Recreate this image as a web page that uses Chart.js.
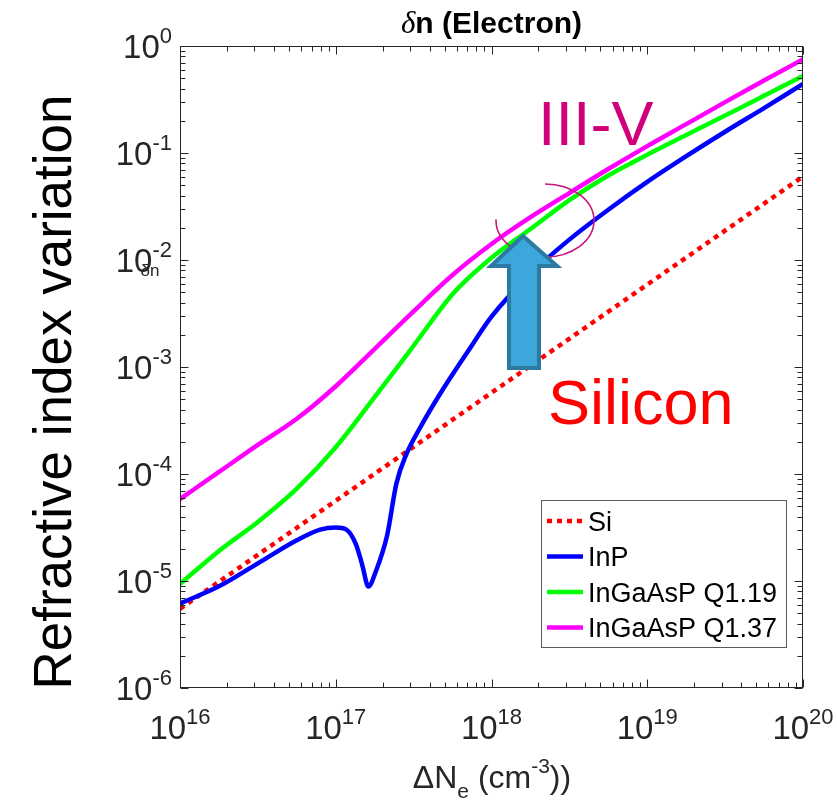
<!DOCTYPE html>
<html>
<head>
<meta charset="utf-8">
<script src="https://cdn.jsdelivr.net/npm/chart.js@4.4.1/dist/chart.umd.min.js"></script>
<style>
  html, body { margin: 0; padding: 0; background: #fff; }
  #wrap { width: 837px; height: 802px; }
</style>
</head>
<body>
<div id="wrap"><canvas id="dnChart" width="837" height="802"></canvas></div>
<script>
// electron density (cm^-3) and refractive index change for each material
const nSi = [1e16, 1e17, 1e18, 1e19, 1e20];
const dnSi = [5.5e-6, 5.62e-5, 5.75e-4, 5.89e-3, 6.03e-2];

const nInP = [1e16, 1.78e16, 3.16e16, 5.62e16, 7.94e16, 1e17, 1.17e17, 1.35e17, 1.48e17, 1.62e17,
              1.82e17, 2.14e17, 2.45e17, 2.85e17, 3.47e17, 4.68e17, 7.24e17, 1e18, 1.78e18, 3.16e18,
              5.62e18, 1e19, 1.78e19, 3.16e19, 5.62e19, 1e20];
const dnInP = [6.17e-6, 8.91e-6, 1.46e-5, 2.40e-5, 3.02e-5, 3.16e-5, 3.02e-5, 2.19e-5, 1.41e-5, 8.9e-6,
               1.26e-5, 2.69e-5, 8.13e-5, 1.55e-4, 2.69e-4, 5.62e-4, 1.48e-3, 2.95e-3, 7.41e-3, 1.55e-2,
               2.95e-2, 5.37e-2, 9.33e-2, 0.158, 0.263, 0.442];

const nQ = [1e16, 1.78e16, 3.16e16, 5.62e16, 1e17, 1.78e17, 3.16e17, 5.62e17, 1e18, 1.78e18,
            3.16e18, 5.62e18, 1e19, 1.78e19, 3.16e19, 5.62e19, 1e20];
const dnQ119 = [9.38e-6, 1.91e-5, 3.56e-5, 7.29e-5, 1.78e-4, 5.25e-4, 1.58e-3, 4.79e-3, 1.05e-2, 1.95e-2,
                3.63e-2, 6.17e-2, 9.62e-2, 0.147, 0.224, 0.342, 0.525];
const dnQ137 = [5.83e-5, 1.045e-4, 1.87e-4, 3.28e-4, 6.61e-4, 1.48e-3, 3.31e-3, 7.24e-3, 1.41e-2, 2.51e-2,
                4.22e-2, 7.08e-2, 0.116, 0.186, 0.299, 0.475, 0.752];

const seriesNames = ['Si', 'InP', 'InGaAsP Q1.19', 'InGaAsP Q1.37'];
const xDecades = [16, 17, 18, 19, 20];
const yDecades = [-6, -5, -4, -3, -2, -1, 0];

const axisColor = '#262626';
const SANS = "'Liberation Sans', Arial, sans-serif";

function toPoints(xs, ys) {
    return xs.map((v, i) => ({ x: v, y: ys[i] }));
}

const seriesStyle = [
    { color: '#ff0000', dash: [5, 5] },
    { color: '#0000ff', dash: [] },
    { color: '#00ff00', dash: [] },
    { color: '#ff00ff', dash: [] }
];

const datasets = [
    toPoints(nSi, dnSi),
    toPoints(nInP, dnInP),
    toPoints(nQ, dnQ119),
    toPoints(nQ, dnQ137)
].map((pts, i) => ({
    label: seriesNames[i],
    data: pts,
    showLine: true,
    borderColor: seriesStyle[i].color,
    borderWidth: 4.5,
    borderDash: seriesStyle[i].dash,
    borderCapStyle: 'butt',
    pointRadius: 0,
    cubicInterpolationMode: i === 0 ? 'default' : 'monotone',
    tension: 0,
    order: 4 - i
}));

// "10" with a raised exponent
function drawPower(ctx, exp, x, baseline, align) {
    const baseFont = '33px ' + SANS;
    const supFont = '22px ' + SANS;
    ctx.font = baseFont;
    const wb = ctx.measureText('10').width;
    ctx.font = supFont;
    const expText = String(exp);
    const we = ctx.measureText(expText).width;
    let left = align === 'right' ? x - wb - we : x - (wb + we) / 2;
    ctx.textAlign = 'left';
    ctx.textBaseline = 'alphabetic';
    ctx.font = baseFont;
    ctx.fillText('10', left, baseline);
    ctx.font = supFont;
    ctx.fillText(expText, left + wb, baseline - 15);
}

function drawFrame(chart) {
    const { ctx, chartArea: a, scales: { x, y } } = chart;
    const L = Math.round(a.left) + 0.5, R = Math.round(a.right) - 0.5;
    const T = Math.round(a.top) + 0.5, B = Math.round(a.bottom) - 0.5;
    ctx.save();
    ctx.strokeStyle = axisColor;
    ctx.lineWidth = 1;
    ctx.strokeRect(L, T, R - L, B - T);
    ctx.beginPath();
    xDecades.forEach(d => {
        for (let m = 1; m < 10; m++) {
            const v = m * Math.pow(10, d);
            if (v > Math.pow(10, xDecades[xDecades.length - 1])) break;
            const px = Math.round(x.getPixelForValue(v)) + 0.5;
            const len = m === 1 ? 8 : 5;
            ctx.moveTo(px, B); ctx.lineTo(px, B - len);
            ctx.moveTo(px, T); ctx.lineTo(px, T + len);
        }
    });
    yDecades.forEach(d => {
        for (let m = 1; m < 10; m++) {
            const v = m * Math.pow(10, d);
            if (v > Math.pow(10, yDecades[yDecades.length - 1])) break;
            const py = Math.round(y.getPixelForValue(v)) + 0.5;
            const len = m === 1 ? 8 : 5;
            ctx.moveTo(L, py); ctx.lineTo(L + len, py);
            ctx.moveTo(R, py); ctx.lineTo(R - len, py);
        }
    });
    ctx.stroke();
    ctx.restore();
}

function drawCallout(chart) {
    const ctx = chart.ctx;
    ctx.save();
    // ellipse marking the III-V curves
    ctx.strokeStyle = '#c8167e';
    ctx.lineWidth = 1.6;
    ctx.beginPath();
    ctx.ellipse(545, 220.5, 49, 36.5, 0, -Math.PI / 2, Math.PI * 1.01);
    ctx.stroke();

    // block arrow from silicon up to III-V
    ctx.beginPath();
    ctx.moveTo(523, 236);
    ctx.lineTo(557, 266);
    ctx.lineTo(539, 266);
    ctx.lineTo(539, 368);
    ctx.lineTo(509, 368);
    ctx.lineTo(509, 266);
    ctx.lineTo(491, 266);
    ctx.closePath();
    ctx.fillStyle = '#3ca7da';
    ctx.fill();
    ctx.strokeStyle = '#2c79a2';
    ctx.lineWidth = 4;
    ctx.lineJoin = 'miter';
    ctx.stroke();

    ctx.textBaseline = 'alphabetic';
    ctx.textAlign = 'left';
    ctx.font = '63px ' + SANS;
    ctx.fillStyle = '#d0007a';
    ctx.fillText('III-V', 538, 145);
    ctx.fillStyle = '#ff0000';
    ctx.fillText('Silicon', 548, 424);
    ctx.restore();
}

function drawLegend(chart) {
    const ctx = chart.ctx;
    const box = { x: 541, y: 500, w: 245, h: 147 };
    ctx.save();
    ctx.fillStyle = '#ffffff';
    ctx.fillRect(box.x, box.y, box.w, box.h);
    ctx.strokeStyle = '#5a5a5a';
    ctx.lineWidth = 1;
    ctx.strokeRect(box.x + 0.5, box.y + 0.5, box.w, box.h);
    ctx.font = '27px ' + SANS;
    ctx.textBaseline = 'alphabetic';
    ctx.textAlign = 'left';
    seriesNames.forEach((name, i) => {
        const cy = box.y + 21 + i * 35.5;
        ctx.strokeStyle = seriesStyle[i].color;
        ctx.lineWidth = 4.5;
        ctx.setLineDash(seriesStyle[i].dash);
        ctx.beginPath();
        ctx.moveTo(547, cy);
        ctx.lineTo(583, cy);
        ctx.stroke();
        ctx.setLineDash([]);
        ctx.fillStyle = '#000000';
        ctx.fillText(name, 588, cy + 9.5);
    });
    ctx.restore();
}

function drawTexts(chart) {
    const { ctx, chartArea: a, scales: { x, y } } = chart;
    ctx.save();
    ctx.fillStyle = axisColor;
    xDecades.forEach(d => drawPower(ctx, d, x.getPixelForValue(Math.pow(10, d)), a.bottom + 51, 'center'));
    yDecades.forEach(d => drawPower(ctx, d, a.left - 8, y.getPixelForValue(Math.pow(10, d)) + 12, 'right'));

    // title: italic delta + bold text
    ctx.fillStyle = '#000000';
    ctx.textBaseline = 'alphabetic';
    ctx.textAlign = 'left';
    ctx.font = "italic 31px 'Liberation Serif', serif";
    const wd = ctx.measureText('\u03b4').width;
    ctx.font = 'bold 30px ' + SANS;
    const wt = ctx.measureText('n (Electron)').width;
    const tx = (a.left + a.right) / 2 - (wd + wt) / 2;
    ctx.font = "italic 31px 'Liberation Serif', serif";
    ctx.fillText('\u03b4', tx, 33);
    ctx.font = 'bold 30px ' + SANS;
    ctx.fillText('n (Electron)', tx + wd, 33);

    // x axis label: ΔN_e (cm^-3))
    ctx.fillStyle = axisColor;
    const parts = [
        { t: '\u0394N', f: '32px ', dy: 0 },
        { t: 'e', f: '21px ', dy: 10 },
        { t: ' (cm', f: '32px ', dy: 0 },
        { t: '-3', f: '21px ', dy: -15 },
        { t: '))', f: '32px ', dy: 0 }
    ];
    let total = 0;
    parts.forEach(p => { ctx.font = p.f + SANS; p.w = ctx.measureText(p.t).width; total += p.w; });
    let cx = 492 - total / 2;
    parts.forEach(p => {
        ctx.font = p.f + SANS;
        ctx.fillText(p.t, cx, 788 + p.dy);
        cx += p.w;
    });

    // y axis labels
    ctx.fillStyle = '#000000';
    ctx.textAlign = 'center';
    ctx.save();
    ctx.translate(71, 392);
    ctx.rotate(-Math.PI / 2);
    ctx.font = '53px ' + SANS;
    ctx.fillText('Refractive index variation', 0, 0);
    ctx.restore();
    ctx.fillStyle = axisColor;
    ctx.font = '17px ' + SANS;
    ctx.fillText('\u03b4n', 150, 276);
    ctx.restore();
}

const decorPlugin = {
    id: 'decor',
    afterDatasetsDraw(chart) {
        drawCallout(chart);
        drawFrame(chart);
        drawLegend(chart);
    },
    afterDraw(chart) {
        drawTexts(chart);
    }
};

new Chart(document.getElementById('dnChart').getContext('2d'), {
    type: 'scatter',
    data: { datasets: datasets },
    options: {
        responsive: false,
        devicePixelRatio: 1,
        animation: false,
        layout: { padding: { left: 180, right: 34, top: 46, bottom: 114 } },
        scales: {
            x: { type: 'logarithmic', min: 1e16, max: 1e20, display: false },
            y: { type: 'logarithmic', min: 1e-6, max: 1, display: false }
        },
        plugins: {
            legend: { display: false },
            tooltip: { enabled: false }
        }
    },
    plugins: [decorPlugin]
});
</script>
</body>
</html>
